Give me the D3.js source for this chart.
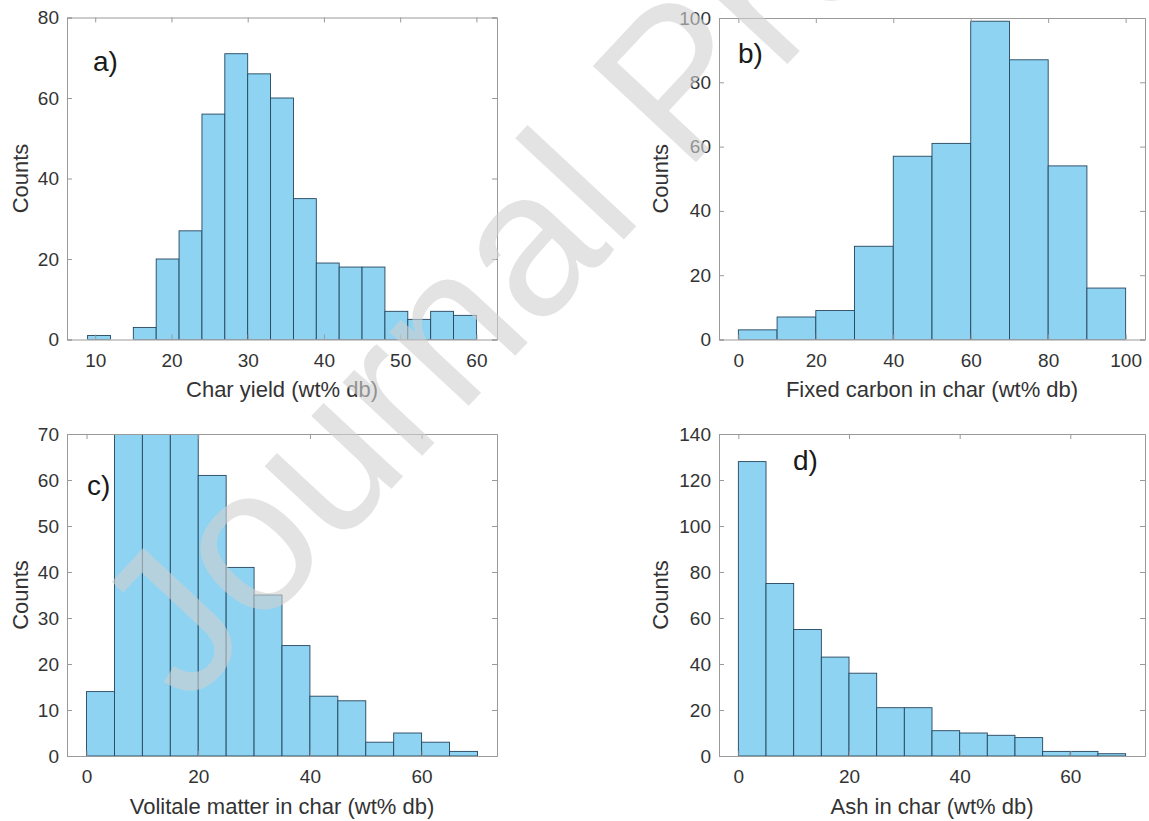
<!DOCTYPE html>
<html>
<head>
<meta charset="utf-8">
<script src="https://cdn.jsdelivr.net/npm/d3@7"></script>
<style>
  html, body { margin: 0; padding: 0; background: #fff; }
  svg { display: block; font-family: "Liberation Sans", Arial, sans-serif; }
</style>
</head>
<body>
<svg id="chart" width="1149" height="821"></svg>
<script>
// ---------- DATA ----------
// a) Char yield: bin edges and counts
const charYieldEdges = [9, 12, 15, 18, 21, 24, 27, 30, 33, 36, 39, 42, 45, 48, 51, 54, 57, 60];
const charYieldCounts = [1, 0, 3, 20, 27, 56, 71, 66, 60, 35, 19, 18, 18, 7, 5, 7, 6];
const charYieldXTicks = [10, 20, 30, 40, 50, 60];
const charYieldYTicks = [0, 20, 40, 60, 80];

// b) Fixed carbon in char
const fixedCarbonEdges = [0, 10, 20, 30, 40, 50, 60, 70, 80, 90, 100];
const fixedCarbonCounts = [3, 7, 9, 29, 57, 61, 99, 87, 54, 16];
const fixedCarbonXTicks = [0, 20, 40, 60, 80, 100];
const fixedCarbonYTicks = [0, 20, 40, 60, 80, 100];

// c) Volatile matter in char (bins 2-4 exceed the 70 axis limit and are clipped)
const volatileEdges = [0, 5, 10, 15, 20, 25, 30, 35, 40, 45, 50, 55, 60, 65, 70];
const volatileCounts = [14, 78, 80, 76, 61, 41, 35, 24, 13, 12, 3, 5, 3, 1];
const volatileXTicks = [0, 20, 40, 60];
const volatileYTicks = [0, 10, 20, 30, 40, 50, 60, 70];

// d) Ash in char
const ashEdges = [0, 5, 10, 15, 20, 25, 30, 35, 40, 45, 50, 55, 60, 65, 70];
const ashCounts = [128, 75, 55, 43, 36, 21, 21, 11, 10, 9, 8, 2, 2, 1];
const ashXTicks = [0, 20, 40, 60];
const ashYTicks = [0, 20, 40, 60, 80, 100, 120, 140];

const panelLabels = ["a)", "b)", "c)", "d)"];
const xTitles = ["Char yield (wt% db)", "Fixed carbon in char (wt% db)",
                 "Volitale matter in char (wt% db)", "Ash in char (wt% db)"];
const yTitle = "Counts";
const watermarkText = "Journal Pre-proof";

// ---------- LAYOUT ----------
const svg = d3.select("#chart");
svg.append("rect").attr("width", 1149).attr("height", 821).attr("fill", "#fff");

const panels = [
  { edges: charYieldEdges, counts: charYieldCounts, xt: charYieldXTicks, yt: charYieldYTicks,
    xd: [6.3, 62.7], yd: [0, 80], box: [67, 497, 17.5, 339.5], lab: [93, 71], ylabX: 28 },
  { edges: fixedCarbonEdges, counts: fixedCarbonCounts, xt: fixedCarbonXTicks, yt: fixedCarbonYTicks,
    xd: [-5, 105], yd: [0, 100], box: [719, 1145, 18, 339.5], lab: [738, 63], ylabX: 668 },
  { edges: volatileEdges, counts: volatileCounts, xt: volatileXTicks, yt: volatileYTicks,
    xd: [-3.5, 73.5], yd: [0, 70], box: [67, 497, 434, 756], lab: [87, 495], ylabX: 28 },
  { edges: ashEdges, counts: ashCounts, xt: ashXTicks, yt: ashYTicks,
    xd: [-3.5, 73.5], yd: [0, 140], box: [719, 1145, 434, 756], lab: [793, 470], ylabX: 668 }
];

const barFill = "#8fd3f3";
const barEdge = "#24465e";
const axisColor = "#9a9a9a";
const textColor = "#333333";
const tickLen = 5;

panels.forEach((p, i) => {
  const [L, R, T, B] = p.box;
  const x = d3.scaleLinear().domain(p.xd).range([L, R]);
  const y = d3.scaleLinear().domain(p.yd).range([B, T]);
  const g = svg.append("g");

  const clipId = "clip" + i;
  svg.append("defs").append("clipPath").attr("id", clipId)
    .append("rect").attr("x", L).attr("y", T).attr("width", R - L).attr("height", B - T);

  const bins = p.counts.map((c, k) => ({ x0: p.edges[k], x1: p.edges[k + 1], c: c }))
                       .filter(d => d.c > 0);
  g.append("g").attr("clip-path", `url(#${clipId})`)
    .selectAll("rect").data(bins).join("rect")
    .attr("x", d => x(d.x0))
    .attr("width", d => x(d.x1) - x(d.x0))
    .attr("y", d => y(d.c))
    .attr("height", d => y(0) - y(d.c))
    .attr("fill", barFill)
    .attr("stroke", barEdge)
    .attr("stroke-width", 0.9);

  // axes with inward ticks on all four sides
  const axB = d3.axisBottom(x).tickValues(p.xt).tickSize(-tickLen).tickPadding(9);
  const axT = d3.axisTop(x).tickValues(p.xt).tickSize(-tickLen).tickFormat("");
  const axL = d3.axisLeft(y).tickValues(p.yt).tickSize(-tickLen).tickPadding(8);
  const axR = d3.axisRight(y).tickValues(p.yt).tickSize(-tickLen).tickFormat("");

  const gb = g.append("g").attr("transform", `translate(0,${B})`).call(axB);
  const gt = g.append("g").attr("transform", `translate(0,${T})`).call(axT);
  const gl = g.append("g").attr("transform", `translate(${L},0)`).call(axL);
  const gr = g.append("g").attr("transform", `translate(${R},0)`).call(axR);
  [gb, gt, gl, gr].forEach(a => {
    a.select(".domain").attr("stroke", axisColor).attr("stroke-width", 1);
    a.selectAll(".tick line").attr("stroke", axisColor);
    a.selectAll(".tick text").attr("fill", textColor)
      .style("font-size", "19px").style("font-family", '"Liberation Sans", Arial, sans-serif');
  });
  gb.selectAll(".tick text").attr("dy", "0.95em");

  // x title
  g.append("text").attr("x", (L + R) / 2).attr("y", B + 57.5)
    .attr("text-anchor", "middle").attr("fill", textColor)
    .style("font-size", "22px").text(xTitles[i]);
  // y title
  g.append("text")
    .attr("transform", `translate(${p.ylabX},${(T + B) / 2}) rotate(-90)`)
    .attr("text-anchor", "middle").attr("fill", textColor)
    .style("font-size", "22px").text(yTitle);
  // panel letter
  g.append("text").attr("x", p.lab[0]).attr("y", p.lab[1])
    .attr("fill", "#1a1a1a").style("font-size", "28px").text(panelLabels[i]);
});

// watermark (runs off the top edge, as in the source page)
svg.append("text")
  .attr("transform", "translate(187,708) rotate(-47)")
  .attr("fill", "#d0d0d0").attr("fill-opacity", 0.6)
  .style("font-size", "205px")
  .text(watermarkText);
</script>
</body>
</html>
